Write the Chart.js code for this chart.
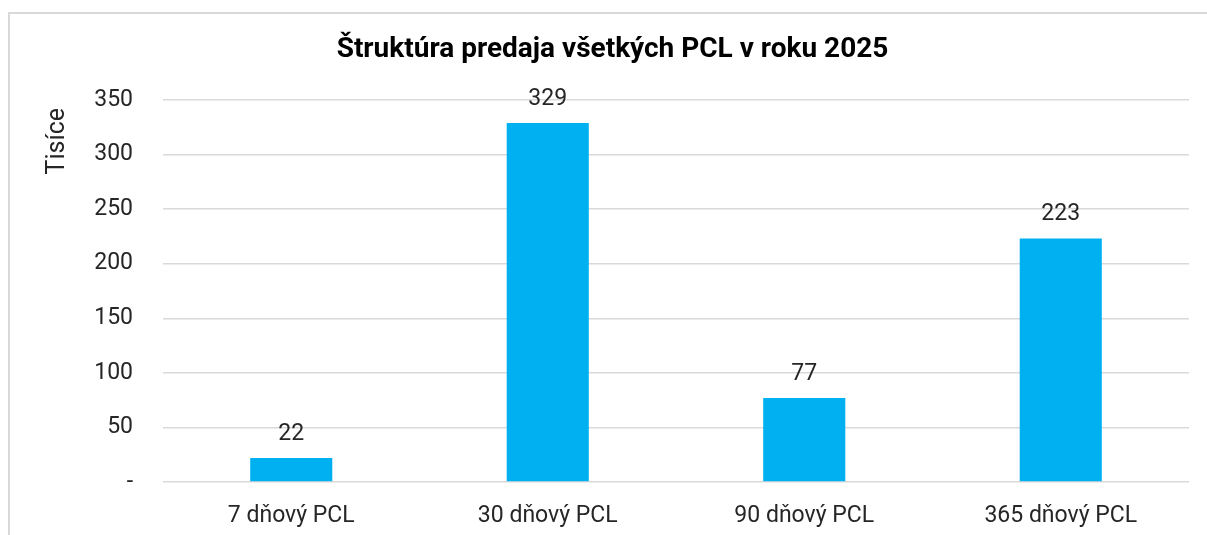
<!DOCTYPE html>
<html>
<head>
<meta charset="utf-8">
<script src="https://cdn.jsdelivr.net/npm/chart.js@4.4.1/dist/chart.umd.min.js"></script>
<style>
  html, body { margin: 0; padding: 0; background: #ffffff; overflow: hidden; }
  #frame {
    position: absolute; left: 8px; top: 12px;
    width: 1230px; height: 560px;
    border: 2px solid #d9d9d9; box-sizing: border-box;
  }
  /* the canvas is a bit wider than the window so the title centres like the original */
  #wrap { position: absolute; left: 0; top: 0; width: 1225px; height: 535px; }
</style>
</head>
<body>
<div id="frame"></div>
<div id="wrap"><canvas id="chart-canvas"></canvas></div>
<script>
// categories and values (in thousands)
const categories = ['7 dňový PCL', '30 dňový PCL', '90 dňový PCL', '365 dňový PCL'];
const sales = [22, 329, 77, 223];
const yTicks = [0, 50, 100, 150, 200, 250, 300, 350];
const yTitle = 'Tisíce';

const textColor = '#262626';
const barColor = '#00b0f0';
const gridColor = '#d9d9d9';
const fontFamily = 'Roboto, "Liberation Sans", sans-serif';

// I draw the value above each bar and the rotated unit label near the top of the y axis
const valueLabels = {
    id: 'valueLabels',
    afterDatasetsDraw(chart) {
        const ctx = chart.ctx;
        const meta = chart.getDatasetMeta(0);
        ctx.save();
        ctx.font = '23px ' + fontFamily;
        ctx.fillStyle = textColor;
        ctx.textAlign = 'center';
        ctx.textBaseline = 'middle';
        meta.data.forEach((bar, i) => {
            ctx.fillText(String(sales[i]), bar.x, bar.y - 24);
        });
        // unit label
        ctx.translate(58, chart.chartArea.top + 8);
        ctx.rotate(-Math.PI / 2);
        ctx.font = '25px ' + fontFamily;
        ctx.textAlign = 'right';
        ctx.fillText(yTitle, 0, 0);
        ctx.restore();
    }
};

new Chart(document.getElementById('chart-canvas'), {
    type: 'bar',
    data: {
        labels: categories,
        datasets: [{
            data: sales,
            backgroundColor: barColor,
            borderWidth: 0,
            categoryPercentage: 1,
            barPercentage: 0.32
        }]
    },
    options: {
        responsive: true,
        maintainAspectRatio: false,
        animation: false,
        layout: { padding: 0 },
        plugins: {
            legend: { display: false },
            tooltip: { enabled: false },
            title: {
                display: true,
                text: 'Štruktúra predaja všetkých PCL v roku 2025',
                color: '#000000',
                font: { family: fontFamily, size: 28, weight: 'bold' },
                padding: { top: 33.2, bottom: 33.2 }
            }
        },
        scales: {
            x: {
                grid: { display: false, drawTicks: false },
                border: { display: false },
                ticks: {
                    color: textColor,
                    font: { family: fontFamily, size: 23 },
                    padding: 20,
                    maxRotation: 0
                },
                afterFit(axis) { axis.height = 53; }
            },
            y: {
                min: 0,
                max: 350,
                afterBuildTicks(axis) { axis.ticks = yTicks.map(v => ({ value: v })); },
                grid: { color: gridColor, lineWidth: 1.5, drawTicks: false },
                border: { display: false },
                ticks: {
                    color: textColor,
                    font: { family: fontFamily, size: 23 },
                    padding: 30,
                    callback: v => v === 0 ? '-' : String(v)
                },
                afterFit(axis) { axis.width = 163; }
            },
            // empty right axis that only reserves the right margin
            yRight: {
                position: 'right',
                display: true,
                grid: { display: false, drawTicks: false },
                border: { display: false },
                ticks: { display: false },
                afterFit(axis) { axis.width = 36; }
            }
        }
    },
    plugins: [valueLabels]
});
</script>
</body>
</html>
